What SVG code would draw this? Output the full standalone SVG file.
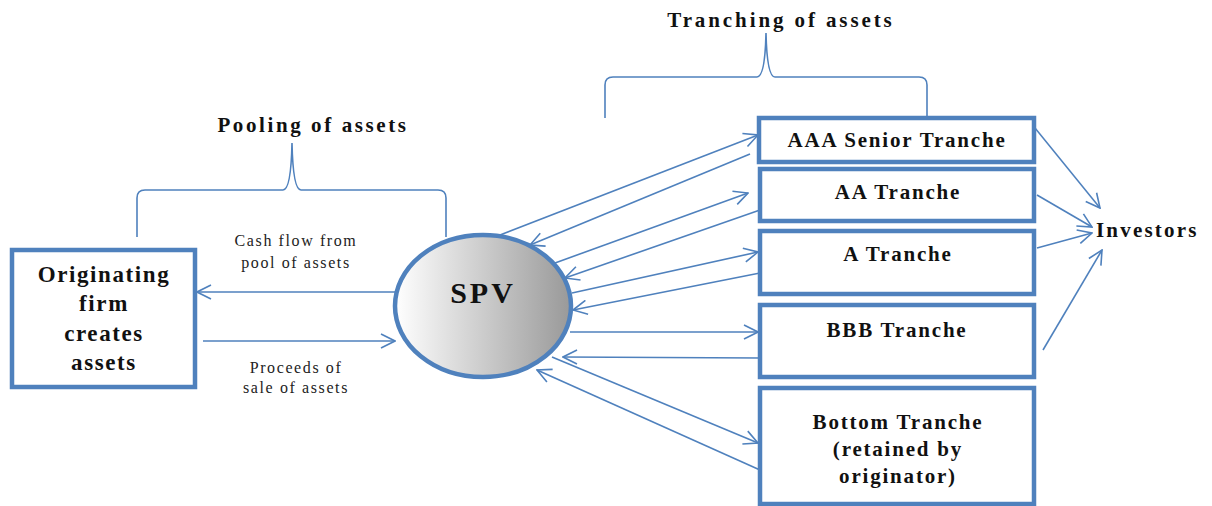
<svg xmlns="http://www.w3.org/2000/svg" width="1212" height="506" viewBox="0 0 1212 506">
<defs>
<linearGradient id="spvGrad" x1="0" y1="0" x2="1" y2="0">
<stop offset="0" stop-color="#ffffff"/>
<stop offset="1" stop-color="#999999"/>
</linearGradient>
<marker id="arr" markerUnits="userSpaceOnUse" markerWidth="16" markerHeight="16" viewBox="0 0 16 16" refX="15" refY="8" orient="auto">
<path d="M1,1 L15,8 L1,15" fill="none" stroke="#4f81bd" stroke-width="1.6"/>
</marker>
</defs>
<style>
.box{fill:#ffffff;stroke:#4f81bd;stroke-width:4.5}
.ln{fill:none;stroke:#4f81bd;stroke-width:1.6;marker-end:url(#arr)}
.brace{fill:none;stroke:#4f81bd;stroke-width:1.6}
.bt{font-family:"Liberation Serif","Times New Roman",serif;font-weight:bold;fill:#111111;text-anchor:middle}
.st{font-family:"Liberation Serif","Times New Roman",serif;fill:#222222;text-anchor:middle;font-size:16px;letter-spacing:1.6px}
</style>
<rect width="1212" height="506" fill="#ffffff"/>

<g id="braces">
<path class="brace" d="M137,237 L137,198 Q137,190 145,190 L283,190 Q291,190 292,143 Q293,190 301,190 L438,190 Q446,190 446,198 L446,237"/>
<path class="brace" d="M605,118 L605,85 Q605,77 613,77 L757,77 Q765,77 766,33 Q767,77 775,77 L919,77 Q927,77 927,85 L927,117"/>
</g>

<g id="titles">
<text class="bt" x="313" y="132" font-size="21" letter-spacing="2.6">Pooling of assets</text>
<text class="bt" x="781" y="27" font-size="21" letter-spacing="2.9">Tranching of assets</text>
</g>

<g id="connectors">
<line class="ln" x1="395" y1="292" x2="197" y2="292"/>
<line class="ln" x1="203" y1="341" x2="395" y2="341"/>
<line class="ln" x1="500" y1="235" x2="758" y2="135"/>
<line class="ln" x1="750" y1="154" x2="530" y2="245"/>
<line class="ln" x1="555" y1="263" x2="748" y2="193"/>
<line class="ln" x1="760" y1="210" x2="565" y2="278"/>
<line class="ln" x1="572" y1="293" x2="758" y2="252"/>
<line class="ln" x1="760" y1="273" x2="573" y2="310"/>
<line class="ln" x1="570" y1="332" x2="758" y2="332"/>
<line class="ln" x1="760" y1="358" x2="563" y2="357"/>
<line class="ln" x1="552" y1="357" x2="758" y2="443"/>
<line class="ln" x1="760" y1="470" x2="537" y2="370"/>
<line class="ln" x1="1035" y1="128" x2="1100" y2="208"/>
<line class="ln" x1="1037" y1="195" x2="1092" y2="227"/>
<line class="ln" x1="1037" y1="248" x2="1092" y2="233"/>
<line class="ln" x1="1043" y1="350" x2="1102" y2="250"/>
</g>

<g id="flow-labels">
<text class="st" x="296" y="246">Cash flow from</text>
<text class="st" x="296" y="268">pool of assets</text>
<text class="st" x="296" y="373">Proceeds of</text>
<text class="st" x="296" y="393">sale of assets</text>
</g>

<g id="originating">
<rect class="box" x="12" y="250" width="183" height="137"/>
<text class="bt" font-size="23" letter-spacing="1.6" x="104" y="282">Originating</text>
<text class="bt" font-size="23" letter-spacing="1.6" x="104" y="311">firm</text>
<text class="bt" font-size="23" letter-spacing="1.6" x="104" y="341">creates</text>
<text class="bt" font-size="23" letter-spacing="1.6" x="104" y="370">assets</text>
</g>

<g id="spv">
<ellipse cx="483" cy="306" rx="88" ry="71" fill="url(#spvGrad)" stroke="#4f81bd" stroke-width="4.5"/>
<text class="bt" x="483" y="303" font-size="30" letter-spacing="3">SPV</text>
</g>

<g id="aaa">
<rect class="box" x="759" y="118" width="275" height="44"/>
<text class="bt" x="897" y="147" font-size="21" letter-spacing="1.8">AAA Senior Tranche</text>
</g>
<g id="aa">
<rect class="box" x="760" y="169" width="274" height="52"/>
<text class="bt" x="898" y="199" font-size="21" letter-spacing="1.8">AA Tranche</text>
</g>
<g id="a">
<rect class="box" x="760" y="231" width="274" height="63"/>
<text class="bt" x="898" y="261" font-size="21" letter-spacing="1.8">A Tranche</text>
</g>
<g id="bbb">
<rect class="box" x="760" y="305" width="274" height="72"/>
<text class="bt" x="897" y="337" font-size="21" letter-spacing="1.8">BBB Tranche</text>
</g>
<g id="bottom">
<rect class="box" x="760" y="388" width="274" height="116"/>
<text class="bt" x="898" y="429" font-size="21" letter-spacing="1.8">Bottom Tranche</text>
<text class="bt" x="898" y="456" font-size="21" letter-spacing="1.8">(retained by</text>
<text class="bt" x="898" y="483" font-size="21" letter-spacing="1.8">originator)</text>
</g>

<g id="investors">
<text x="1096" y="237" font-family="Liberation Serif, Times New Roman, serif" font-weight="bold" font-size="21" letter-spacing="2.2" fill="#111111">Investors</text>
</g>
</svg>
